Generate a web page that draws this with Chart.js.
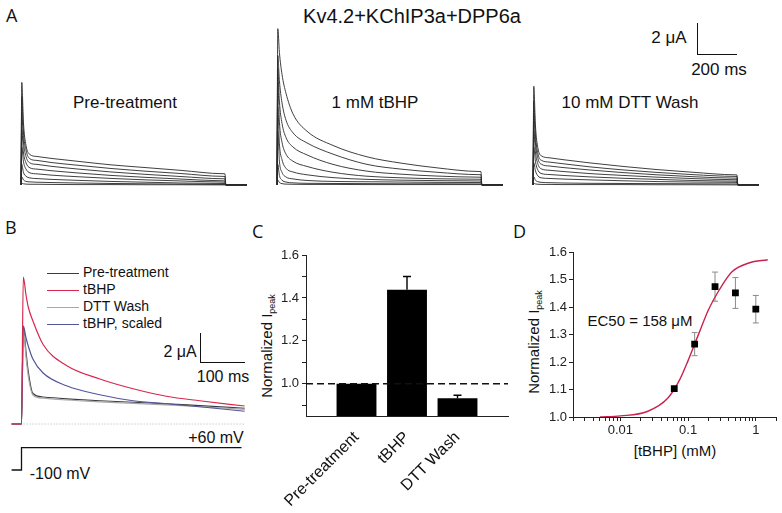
<!DOCTYPE html>
<html>
<head>
<meta charset="utf-8">
<script src="https://cdn.jsdelivr.net/npm/chart.js@4.4.0/dist/chart.umd.min.js"></script>
<style>
body { margin: 0; width: 782px; height: 513px; position: relative; overflow: hidden; background: #fff;
       font-family: "Liberation Sans", Arial, sans-serif; color: #111; }
canvas { position: absolute; }
.t { position: absolute; white-space: nowrap; line-height: 1; transform: translate(-50%, -50%); }
.rot { transform: translate(-50%, -50%) rotate(-90deg); }
.rot sub { font-size: 9px; vertical-align: -3px; }
.letter { position: absolute; font-family: "Open Sans", sans-serif; font-size: 18px; line-height: 1; }
.bar { position: absolute; background: #111; }
.leg { position: absolute; left: 47px; font-size: 14px; line-height: 1; white-space: nowrap; }
.leg span { display: inline-block; width: 32px; height: 1.5px; vertical-align: middle; margin-right: 4px; }
</style>
</head>
<body>

<div class="letter" style="left:6px;top:6px">A</div>
<div class="t" style="left:412px;top:16px;font-size:20px">Kv4.2+KChIP3a+DPP6a</div>
<div class="t" style="left:125px;top:102px;font-size:17px">Pre-treatment</div>
<div class="t" style="left:375px;top:102px;font-size:17px">1 mM tBHP</div>
<div class="t" style="left:630px;top:102px;font-size:17px">10 mM DTT Wash</div>
<div class="t" style="left:669px;top:37px;font-size:17px">2 &mu;A</div>
<div class="t" style="left:719px;top:69px;font-size:17px">200 ms</div>
<div class="bar" style="left:697px;top:23px;width:1.3px;height:32px"></div>
<div class="bar" style="left:697px;top:54px;width:40px;height:1.3px"></div>

<canvas id="aPre" width="236" height="172" style="left:15px;top:20px"></canvas>
<canvas id="aTbhp" width="236" height="172" style="left:271px;top:20px"></canvas>
<canvas id="aDtt" width="236" height="172" style="left:527px;top:20px"></canvas>

<div class="letter" style="left:5px;top:218px">B</div>
<div class="leg" style="top:265px"><span style="background:#3c3c3c"></span>Pre-treatment</div>
<div class="leg" style="top:282px"><span style="background:#d8274e"></span>tBHP</div>
<div class="leg" style="top:299px"><span style="background:#a8a8a8"></span>DTT Wash</div>
<div class="leg" style="top:316px"><span style="background:#55559a"></span>tBHP, scaled</div>
<div class="t" style="left:180px;top:352px;font-size:16px">2 &mu;A</div>
<div class="t" style="left:223px;top:377px;font-size:16px">100 ms</div>
<div class="bar" style="left:200px;top:333px;width:1.3px;height:30px"></div>
<div class="bar" style="left:200px;top:362px;width:45px;height:1.3px"></div>
<div class="t" style="left:216px;top:438px;font-size:16px">+60 mV</div>
<div class="t" style="left:60px;top:474px;font-size:16px">-100 mV</div>
<canvas id="bChart" width="243" height="215" style="left:8px;top:265px"></canvas>

<div class="letter" style="left:252px;top:222px">C</div>
<div class="t rot" style="left:268px;top:346px;font-size:15px">Normalized I<sub>peak</sub></div>
<canvas id="cChart" width="254" height="266" style="left:270px;top:245px"></canvas>

<div class="letter" style="left:513px;top:222px">D</div>
<div class="t rot" style="left:535px;top:342px;font-size:15px">Normalized I<sub>peak</sub></div>
<div class="t" style="left:640px;top:320px;font-size:15px">EC50 = 158 &mu;M</div>
<div class="t" style="left:675px;top:450px;font-size:15px">[tBHP] (mM)</div>
<canvas id="dChart" width="246" height="197" style="left:535px;top:242px"></canvas>

<script>
// ---------- A: current families (uA) sampled at traceTimes (ms) ----------
const traceTimes = [0, 4, 12, 25, 45, 80, 150, 280, 450, 620, 800, 1010, 1020, 1024, 1130];

const preTraces = [
    [0, 6.5, 4.0, 2.5, 1.92, 1.80, 1.68, 1.50, 1.27, 1.10, 0.92, 0.71, 0.70, 0, 0],
    [0, 5.6, 3.4, 2.2, 1.65, 1.55, 1.42, 1.25, 1.04, 0.87, 0.72, 0.54, 0.53, 0, 0],
    [0, 4.6, 2.8, 1.8, 1.39, 1.30, 1.18, 1.01, 0.82, 0.67, 0.53, 0.39, 0.38, 0, 0],
    [0, 3.5, 2.1, 1.4, 1.08, 1.00, 0.90, 0.76, 0.60, 0.48, 0.37, 0.26, 0.25, 0, 0],
    [0, 2.4, 1.5, 1.0, 0.76, 0.70, 0.62, 0.52, 0.41, 0.32, 0.25, 0.18, 0.17, 0, 0],
    [0, 1.3, 0.8, 0.55, 0.44, 0.40, 0.35, 0.29, 0.22, 0.17, 0.12, 0.09, 0.08, 0, 0],
    [0, 0.5, 0.32, 0.22, 0.19, 0.17, 0.15, 0.12, 0.09, 0.07, 0.05, 0.03, 0.03, 0, 0],
    [0, 0.1, 0.07, 0.05, 0.04, 0.04, 0.03, 0.02, 0.02, 0.01, 0.01, 0.0, 0.0, 0, 0]
];

const tbhpTraces = [
    [0, 9.9, 8.4, 7.0, 5.8, 4.5, 3.4, 2.5, 1.78, 1.38, 1.08, 0.85, 0.84, 0, 0],
    [0, 8.2, 6.6, 5.2, 4.1, 3.3, 2.66, 1.95, 1.30, 1.00, 0.80, 0.65, 0.64, 0, 0],
    [0, 7.4, 5.3, 3.9, 3.0, 2.4, 1.9, 1.3, 0.87, 0.68, 0.56, 0.49, 0.48, 0, 0],
    [0, 6.5, 4.0, 2.7, 1.95, 1.5, 1.17, 0.8, 0.55, 0.45, 0.39, 0.36, 0.35, 0, 0],
    [0, 4.9, 2.6, 1.6, 1.05, 0.82, 0.64, 0.46, 0.35, 0.30, 0.27, 0.25, 0.24, 0, 0],
    [0, 3.4, 1.5, 0.8, 0.5, 0.38, 0.28, 0.22, 0.20, 0.18, 0.16, 0.15, 0.14, 0, 0],
    [0, 1.3, 0.6, 0.3, 0.18, 0.13, 0.10, 0.09, 0.08, 0.07, 0.07, 0.06, 0.06, 0, 0],
    [0, 0.3, 0.15, 0.08, 0.05, 0.04, 0.03, 0.03, 0.02, 0.02, 0.02, 0.02, 0.02, 0, 0]
];

const dttTraces = [
    [0, 6.25, 3.8, 2.3, 1.82, 1.72, 1.60, 1.40, 1.17, 0.97, 0.80, 0.64, 0.63, 0, 0],
    [0, 5.3, 3.2, 1.95, 1.54, 1.45, 1.34, 1.15, 0.95, 0.79, 0.65, 0.54, 0.53, 0, 0],
    [0, 4.4, 2.7, 1.65, 1.29, 1.20, 1.10, 0.95, 0.78, 0.64, 0.52, 0.43, 0.42, 0, 0],
    [0, 3.4, 2.1, 1.3, 1.0, 0.93, 0.85, 0.72, 0.60, 0.49, 0.40, 0.33, 0.32, 0, 0],
    [0, 2.4, 1.5, 0.92, 0.71, 0.66, 0.60, 0.51, 0.42, 0.35, 0.28, 0.24, 0.23, 0, 0],
    [0, 1.4, 0.9, 0.56, 0.44, 0.41, 0.37, 0.32, 0.26, 0.21, 0.18, 0.16, 0.15, 0, 0],
    [0, 0.5, 0.3, 0.2, 0.16, 0.14, 0.12, 0.10, 0.09, 0.08, 0.07, 0.06, 0.06, 0, 0],
    [0, 0.1, 0.06, 0.04, 0.03, 0.03, 0.02, 0.02, 0.02, 0.01, 0.01, 0.0, 0.0, 0, 0]
];

// ---------- B: superimposed traces at +60 mV ----------
const bTimes = [-22, 0, 4, 10, 15, 25, 48, 100, 174, 248, 322, 396, 496];
const bPre = [0, 0, 6.5, 4.8, 3.5, 2.05, 1.8, 1.68, 1.55, 1.45, 1.35, 1.22, 1.05];
const bTbhp = [0, 0, 9.8, 8.6, 7.8, 6.9, 5.3, 3.9, 3.0, 2.35, 1.85, 1.55, 1.2];
const bDtt = [0, 0, 6.3, 4.5, 3.2, 1.95, 1.72, 1.6, 1.48, 1.38, 1.28, 1.15, 0.98];
const bScaled = [0, 0, 6.55, 5.75, 5.2, 4.35, 3.4, 2.55, 1.95, 1.55, 1.35, 1.15, 0.85];
const vTimes = [-22, 0, 0, 489];
const vLevels = [-100, -100, 60, 60];

// ---------- C: normalized peak current ----------
const cCategories = ['Pre-treatment', 'tBHP', 'DTT Wash'];
const cValues = [1.0, 1.438, 0.933];
const cErrors = [0, 0.062, 0.014];
const cTicks = [0.9, 1.0, 1.1, 1.2, 1.3, 1.4, 1.5, 1.6];

// ---------- D: dose response ----------
const dConc = [0.0625, 0.125, 0.25, 0.5, 1.0];
const dValues = [1.103, 1.265, 1.474, 1.451, 1.392];
const dErrors = [0, 0.042, 0.053, 0.056, 0.05];
const fitConc = [0.005, 0.01, 0.025, 0.05, 0.075, 0.1, 0.145, 0.2, 0.285, 0.445, 0.79, 1.5];
const fitValues = [1.0, 1.004, 1.02, 1.068, 1.135, 1.205, 1.305, 1.39, 1.46, 1.528, 1.56, 1.572];
const dxTicks = [0.002, 0.003, 0.004, 0.005, 0.006, 0.007, 0.008, 0.009,
                 0.01, 0.02, 0.03, 0.04, 0.05, 0.06, 0.07, 0.08, 0.09,
                 0.1, 0.2, 0.3, 0.4, 0.5, 0.6, 0.7, 0.8, 0.9, 1, 2];
const dyTicks = [1.0, 1.05, 1.1, 1.15, 1.2, 1.25, 1.3, 1.35, 1.4, 1.45, 1.5, 1.55, 1.6];


const FONT = '"Liberation Sans", Arial, sans-serif';
Chart.defaults.font.family = FONT;
Chart.defaults.color = '#111';
Chart.defaults.animation = false;

function points(xs, ys) {
    return ys.map((y, i) => ({ x: xs[i], y: y }));
}

function traceChart(id, traces) {
    new Chart(document.getElementById(id), {
        type: 'line',
        data: {
            datasets: traces.map(tr => ({
                data: points(traceTimes, tr),
                borderColor: '#2a2a2a',
                borderWidth: 0.9,
                pointRadius: 0,
                cubicInterpolationMode: 'monotone'
            }))
        },
        options: {
            responsive: false,
            events: [],
            layout: { padding: 0 },
            plugins: { legend: { display: false }, tooltip: { enabled: false } },
            scales: {
                x: { type: 'linear', display: false, min: -30, max: 1150 },
                y: { display: false, min: -0.45, max: 10.45 }
            }
        }
    });
}

traceChart('aPre', preTraces);
traceChart('aTbhp', tbhpTraces);
traceChart('aDtt', dttTraces);

// B
function bLine(values, color) {
    return {
        data: points(bTimes, values),
        borderColor: color,
        borderWidth: 1.2,
        pointRadius: 0,
        cubicInterpolationMode: 'monotone'
    };
}

new Chart(document.getElementById('bChart'), {
    type: 'line',
    data: {
        datasets: [
            bLine(bTbhp, '#d8274e'),
            bLine(bScaled, '#55559a'),
            bLine(bDtt, '#a8a8a8'),
            bLine(bPre, '#3c3c3c'),
            {
                data: [{ x: -22, y: 0 }, { x: 496, y: 0 }],
                borderColor: '#b0b0b0', borderWidth: 1, borderDash: [1, 2], pointRadius: 0
            },
            {
                data: points(vTimes, vLevels),
                yAxisID: 'v',
                borderColor: '#111', borderWidth: 1.3, pointRadius: 0, tension: 0
            }
        ]
    },
    options: {
        responsive: false,
        events: [],
        layout: { padding: 0 },
        plugins: { legend: { display: false }, tooltip: { enabled: false } },
        scales: {
            x: { type: 'linear', display: false, min: -30, max: 510 },
            y: { display: false, min: -3.733, max: 10.6 },
            v: { display: false, min: -171.8, max: 1370.8 }
        }
    }
});

// error bars drawn through the value scale
const errorBars = {
    id: 'errorBars',
    beforeDatasetsDraw(chart, args, opts) {
        const ds = chart.data.datasets[opts.dataset];
        const meta = chart.getDatasetMeta(opts.dataset);
        const ys = chart.scales.y;
        const ctx = chart.ctx;
        ctx.save();
        ctx.strokeStyle = opts.color;
        ctx.lineWidth = opts.width;
        meta.data.forEach((el, i) => {
            const e = opts.errors[i];
            if (!e) return;
            const v = ds.data[i].y;
            const top = ys.getPixelForValue(v + e);
            const bottom = opts.upOnly ? ys.getPixelForValue(v) : ys.getPixelForValue(v - e);
            ctx.beginPath();
            ctx.moveTo(el.x, top);
            ctx.lineTo(el.x, bottom);
            ctx.moveTo(el.x - opts.cap, top);
            ctx.lineTo(el.x + opts.cap, top);
            if (!opts.upOnly) {
                ctx.moveTo(el.x - opts.cap, bottom);
                ctx.lineTo(el.x + opts.cap, bottom);
            }
            ctx.stroke();
        });
        ctx.restore();
    }
};

// C
new Chart(document.getElementById('cChart'), {
    type: 'bar',
    data: {
        datasets: [
            {
                type: 'line',
                data: [{ x: 0, y: 1 }, { x: 4, y: 1 }],
                borderColor: '#111', borderWidth: 1.6, borderDash: [7, 4], pointRadius: 0,
                order: 0
            },
            {
                data: points([1, 2, 3], cValues),
                backgroundColor: '#000',
                barPercentage: 0.79,
                categoryPercentage: 1,
                base: 0.85,
                order: 1
            }
        ]
    },
    options: {
        responsive: false,
        events: [],
        layout: { padding: { top: 10, right: 16, left: 0, bottom: 0 } },
        plugins: {
            legend: { display: false }, tooltip: { enabled: false },
            errorBars: { dataset: 1, errors: cErrors, color: '#000', width: 1.4, cap: 4, upOnly: true }
        },
        scales: {
            x: {
                type: 'linear', min: 0, max: 4, offset: false,
                grid: { display: false, offset: false },
                border: { display: true, color: '#222', width: 1 },
                afterBuildTicks: s => { s.ticks = [0, 1, 2, 3, 4].map(v => ({ value: v })); },
                afterFit: s => { s.height = 95; s.paddingLeft = 0; s.paddingRight = 0; },
                ticks: {
                    autoSkip: false, minRotation: 45, maxRotation: 45, padding: 4,
                    font: { size: 16 }, color: '#111',
                    callback: v => cCategories[v - 1] || ''
                }
            },
            y: {
                min: 0.85, max: 1.6,
                grid: { drawOnChartArea: false, drawTicks: true, tickLength: 4, color: '#222' },
                border: { display: true, color: '#222', width: 1 },
                afterBuildTicks: s => { s.ticks = cTicks.map(v => ({ value: v })); },
                afterFit: s => { s.width = 36; s.paddingTop = 0; s.paddingBottom = 0; },
                ticks: {
                    padding: 3, font: { size: 13 }, color: '#222',
                    callback: v => (Math.round(v * 10) % 2 === 0 ? v.toFixed(1) : '')
                }
            }
        }
    },
    plugins: [errorBars]
});

// D
new Chart(document.getElementById('dChart'), {
    type: 'scatter',
    data: {
        datasets: [
            {
                data: points(dConc, dValues),
                pointStyle: 'rect', pointRadius: 4.8,
                backgroundColor: '#000', borderColor: '#000', borderWidth: 0
            },
            {
                data: points(fitConc, fitValues),
                showLine: true, borderColor: '#c8234d', borderWidth: 1.4, pointRadius: 0,
                cubicInterpolationMode: 'monotone'
            }
        ]
    },
    options: {
        responsive: false,
        events: [],
        layout: { padding: { top: 10, right: 3, left: 0, bottom: 0 } },
        plugins: {
            legend: { display: false }, tooltip: { enabled: false },
            errorBars: { dataset: 0, errors: dErrors, color: '#8a8a8a', width: 1, cap: 3, upOnly: false }
        },
        scales: {
            x: {
                type: 'logarithmic', min: 0.002, max: 2,
                grid: { drawOnChartArea: false, drawTicks: true, tickLength: 4, color: '#222' },
                border: { display: true, color: '#222', width: 1 },
                afterBuildTicks: s => { s.ticks = dxTicks.map(v => ({ value: v })); },
                afterFit: s => { s.height = 22; s.paddingLeft = 0; s.paddingRight = 0; },
                ticks: {
                    autoSkip: false, maxRotation: 0, padding: 2, font: { size: 13 }, color: '#222',
                    callback: v => ([0.01, 0.1, 1].includes(v) ? String(v) : '')
                }
            },
            y: {
                min: 1.0, max: 1.6,
                grid: { drawOnChartArea: false, drawTicks: true, tickLength: 4, color: '#222' },
                border: { display: true, color: '#222', width: 1 },
                afterBuildTicks: s => { s.ticks = dyTicks.map(v => ({ value: v })); },
                afterFit: s => { s.width = 38; s.paddingTop = 0; s.paddingBottom = 0; },
                ticks: {
                    padding: 2, font: { size: 13 }, color: '#222',
                    callback: v => (Math.round(v * 100) % 10 === 0 ? v.toFixed(1) : '')
                }
            }
        }
    },
    plugins: [errorBars]
});
</script>
</body>
</html>
